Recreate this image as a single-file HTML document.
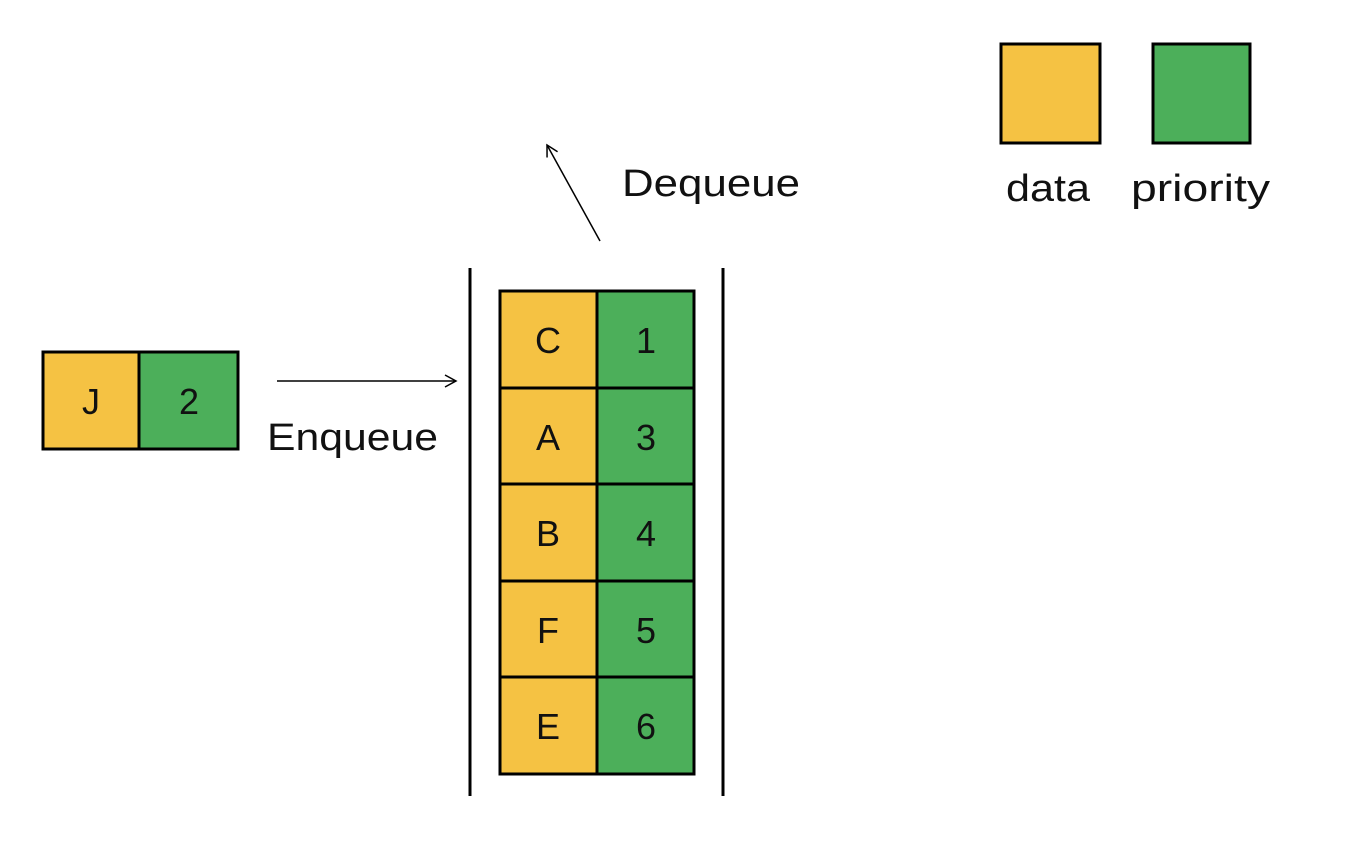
<!DOCTYPE html>
<html><head><style>
body{margin:0;width:1346px;height:848px;background:#fff;overflow:hidden}
svg text{font-family:"Liberation Sans",sans-serif;}
</style></head><body>
<svg width="1346" height="848" xmlns="http://www.w3.org/2000/svg">
<defs><marker id="a" markerWidth="14" markerHeight="14" refX="12" refY="7" orient="auto" markerUnits="userSpaceOnUse"><path d="M1,1 L12,7 L1,13" fill="none" stroke="#000" stroke-width="1.5"/></marker></defs>
<g stroke="#000" stroke-width="3">
<rect x="1001" y="44" width="99" height="99" fill="#F5C243"/>
<rect x="1153" y="44" width="97" height="99" fill="#4CAF5A"/>
<rect x="43" y="352" width="96" height="97" fill="#F5C243"/>
<rect x="139" y="352" width="99" height="97" fill="#4CAF5A"/>
<line x1="470" y1="268" x2="470" y2="796"/>
<line x1="723" y1="268" x2="723" y2="796"/>
</g>
<g stroke="#000" stroke-width="3">
<rect x="500" y="291" width="97" height="97" fill="#F5C243"/><rect x="597" y="291" width="97" height="97" fill="#4CAF5A"/>
<rect x="500" y="388" width="97" height="96" fill="#F5C243"/><rect x="597" y="388" width="97" height="96" fill="#4CAF5A"/>
<rect x="500" y="484" width="97" height="97" fill="#F5C243"/><rect x="597" y="484" width="97" height="97" fill="#4CAF5A"/>
<rect x="500" y="581" width="97" height="96" fill="#F5C243"/><rect x="597" y="581" width="97" height="96" fill="#4CAF5A"/>
<rect x="500" y="677" width="97" height="97" fill="#F5C243"/><rect x="597" y="677" width="97" height="97" fill="#4CAF5A"/>
</g>
<g stroke="#000" stroke-width="1.5" fill="none">
<line x1="277" y1="381" x2="456" y2="381" marker-end="url(#a)"/>
<line x1="600" y1="241" x2="547" y2="145" marker-end="url(#a)"/>
</g>
<g font-size="36" text-anchor="middle" fill="#111">
<text x="91" y="414">J</text><text x="189" y="414">2</text>
<text x="548" y="353">C</text><text x="646" y="353">1</text>
<text x="548" y="450">A</text><text x="646" y="450">3</text>
<text x="548" y="546">B</text><text x="646" y="546">4</text>
<text x="548" y="643">F</text><text x="646" y="643">5</text>
<text x="548" y="739">E</text><text x="646" y="739">6</text>
</g>
<g font-size="38" fill="#111">
<text x="622" y="196" textLength="178" lengthAdjust="spacingAndGlyphs">Dequeue</text>
<text x="267" y="450" textLength="171" lengthAdjust="spacingAndGlyphs">Enqueue</text>
<text x="1006" y="201" textLength="84" lengthAdjust="spacingAndGlyphs">data</text>
<text x="1131" y="201" textLength="139" lengthAdjust="spacingAndGlyphs">priority</text>
</g>
</svg>
</body></html>
